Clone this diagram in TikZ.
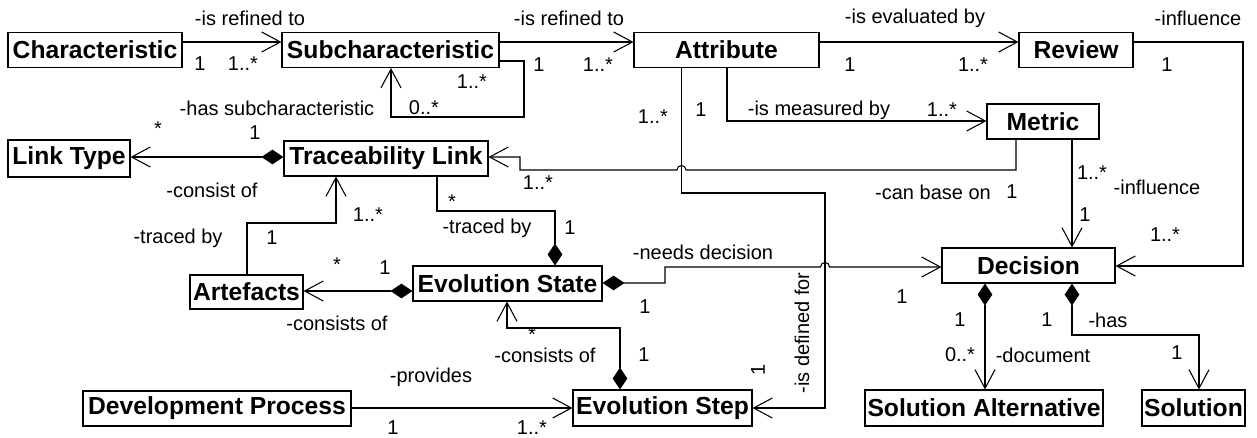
\documentclass[tikz,border=0pt]{standalone}
\usepackage{fontspec}
\setmainfont{Liberation Sans}
\usetikzlibrary{arrows.meta}
\begin{document}
\begin{tikzpicture}[x=0.75pt,y=-0.75pt,
  cls/.style={draw, line width=0.8pt, inner sep=0pt, font=\bfseries\fontsize{18.5}{20}\selectfont, minimum height=35*0.75pt},
  lbl/.style={font=\fontsize{15}{17}\selectfont, inner sep=0pt},
  assoc/.style={line width=0.8pt, -{Straight Barb[length=14pt,width=15pt,line width=0.8pt]}},
  comp/.style={line width=0.8pt, {Diamond[length=16.5pt,width=11pt]}-{Straight Barb[length=14pt,width=15pt,line width=0.8pt]}},
  compn/.style={line width=0.8pt, {Diamond[length=16.5pt,width=11pt]}-},
]
\useasboundingbox (0,0) rectangle (1257,437);

% classes
\node[cls, minimum width=174*0.75pt] (char) at (95,50) {Characteristic};
\node[cls, minimum width=217*0.75pt] (sub) at (390.5,50) {Subcharacteristic};
\node[cls, minimum width=185*0.75pt] (attr) at (726.5,50) {Attribute};
\node[cls, minimum width=114*0.75pt] (review) at (1076,50) {Review};
\node[cls, minimum width=112*0.75pt] (metric) at (1043,121.5) {Metric};
\node[cls, minimum width=122*0.75pt, minimum height=37*0.75pt] (linktype) at (69,158.5) {Link Type};
\node[cls, minimum width=204*0.75pt] (trace) at (386,158.5) {Traceability Link};
\node[cls, minimum width=113*0.75pt, minimum height=34*0.75pt] (artefacts) at (246.5,292) {Artefacts};
\node[cls, minimum width=189*0.75pt] (evostate) at (507.5,283.5) {Evolution State};
\node[cls, minimum width=173*0.75pt] (decision) at (1028.5,265.5) {Decision};
\node[cls, minimum width=268*0.75pt] (devproc) at (217,408.5) {Development Process};
\node[cls, minimum width=179*0.75pt, minimum height=36*0.75pt] (evostep) at (662.5,408) {Evolution Step};
\node[cls, minimum width=238*0.75pt, minimum height=36*0.75pt] (solalt) at (984,408) {Solution Alternative};
\node[cls, minimum width=103*0.75pt, minimum height=36*0.75pt] (solution) at (1193.5,408) {Solution};

% Characteristic -> Subcharacteristic
\draw[assoc] (char.east |- 0,42) -- (sub.west |- 0,42);
\node[lbl] (l1) at (250,18) {-is refined to};
\node[lbl] (m1a) at (200,64) {1};
\node[lbl] (m1b) at (243,64) {1..*};

% self loop
\draw[assoc] (sub.east |- 0,61) -- (524,61) -- (524,117) -- (391,117) -- (sub.south -| 391,0);
\node[lbl] (l2) at (277,108) {-has subcharacteristic};
\node[lbl] (m2a) at (424,108) {0..*};
\node[lbl] (m2b) at (472,82) {1..*};

% Subcharacteristic -> Attribute
\draw[assoc] (sub.east |- 0,42) -- (attr.west |- 0,42);
\node[lbl] (l3) at (569,18) {-is refined to};
\node[lbl] (m3a) at (539,65) {1};
\node[lbl] (m3b) at (598,65) {1..*};

% Attribute -> Review
\draw[assoc] (attr.east |- 0,42) -- (review.west |- 0,42);
\node[lbl] (l4) at (915,18) {-is evaluated by};
\node[lbl] (m4a) at (850,65) {1};
\node[lbl] (m4b) at (973,65) {1..*};

% Review -> Decision
\draw[assoc] (review.east |- 0,42) -- (1243,42) -- (1243,266) -- (decision.east |- 0,266);
\node[lbl] (l5) at (1198,18) {-influence};
\node[lbl] (m5a) at (1167,65) {1};
\node[lbl] (m5b) at (1165,235) {1..*};

% Attribute -> Metric
\draw[assoc] (727,68) -- (727,121) -- (metric.west |- 0,121);
\node[lbl] (l6) at (819,110) {-is measured by};
\node[lbl] (m6a) at (701,110) {1};
\node[lbl] (m6b) at (942,110) {1..*};

% Attribute -> Evolution Step
\draw[assoc] (681.5,68) -- (681.5,193) -- (825,193) -- (825,408) -- (evostep.east |- 0,408);
\node[lbl, rotate=90] (l7) at (802,333) {-is defined for};
\node[lbl, rotate=90] (m7a) at (758,370) {1};
\node[lbl] (m7b) at (653,117) {1..*};

% Metric -> Traceability Link
\draw[assoc] (1016,139) -- (1016,170) -- (686,170) arc[start angle=0,end angle=180,radius=3.4pt] -- (520,170) -- (520,157) -- (trace.east |- 0,157);
\node[lbl] (m8a) at (538,183) {1..*};
\node[lbl] (l8) at (933,192) {-can base on};
\node[lbl] (m8b) at (1012,192) {1};

% Metric -> Decision
\draw[assoc] (1072,139) -- (decision.north -| 1072,0);
\node[lbl] (m9a) at (1092,173) {1..*};
\node[lbl] (l9) at (1157,187) {-influence};
\node[lbl] (m9b) at (1085,215) {1};

% Traceability Link -> Link Type
\draw[comp] (trace.west |- 0,157) -- (linktype.east |- 0,157);
\node[lbl] (m10a) at (158,129) {*};
\node[lbl] (m10b) at (255,133) {1};
\node[lbl] (l10) at (212,190) {-consist of};

% Artefacts -> Traceability Link
\draw[assoc] (247,275) -- (247,223) -- (336,223) -- (trace.south -| 336,0);
\node[lbl] (m11a) at (368,215) {1..*};
\node[lbl] (m11b) at (272,238) {1};
\node[lbl] (l11) at (178,238) {-traced by};

% Evolution State -> Artefacts
\draw[comp] (evostate.west |- 0,291) -- (artefacts.east |- 0,291);
\node[lbl] (m12a) at (337,265) {*};
\node[lbl] (m12b) at (385,268) {1};
\node[lbl] (l12) at (337,323) {-consists of};

% Evolution State (diamond) -- Traceability Link
\draw[compn] (evostate.north -| 555,0) -- (555,211) -- (437,211) -- (trace.south -| 437,0);
\node[lbl] (m13a) at (452,202) {*};
\node[lbl] (l13) at (487,228) {-traced by};
\node[lbl] (m13b) at (570,228) {1};

% Evolution State -> Decision
\draw[comp] (evostate.east |- 0,283) -- (665,283) -- (665,267) -- (820.5,267) arc[start angle=180,end angle=0,radius=3.4pt] -- (decision.west |- 0,267);
\node[lbl] (l14) at (703,252) {-needs decision};
\node[lbl] (m14a) at (645,307) {1};
\node[lbl] (m14b) at (902,297) {1};

% Evolution Step -> Evolution State
\draw[comp] (evostep.north -| 620,0) -- (620,328) -- (507,328) -- (evostate.south -| 507,0);
\node[lbl] (m15a) at (532,335) {*};
\node[lbl] (l15) at (545,355) {-consists of};
\node[lbl] (m15b) at (644,355) {1};

% Development Process -> Evolution Step
\draw[assoc] (devproc.east |- 0,408) -- (evostep.west |- 0,408);
\node[lbl] (l16) at (431,377) {-provides};
\node[lbl] (m16a) at (393,428) {1};
\node[lbl] (m16b) at (532,428) {1..*};

% Decision -> Solution Alternative
\draw[comp] (decision.south -| 985,0) -- (solalt.north -| 985,0);
\node[lbl] (m17a) at (960,320) {1};
\node[lbl] (m17b) at (960,355) {0..*};
\node[lbl] (l17) at (1043,355) {-document};

% Decision -> Solution
\draw[comp] (decision.south -| 1072,0) -- (1072,335) -- (1199,335) -- (solution.north -| 1199,0);
\node[lbl] (m18a) at (1047,320) {1};
\node[lbl] (l18) at (1108,320) {-has};
\node[lbl] (m18b) at (1177,353) {1};
\end{tikzpicture}
\end{document}
